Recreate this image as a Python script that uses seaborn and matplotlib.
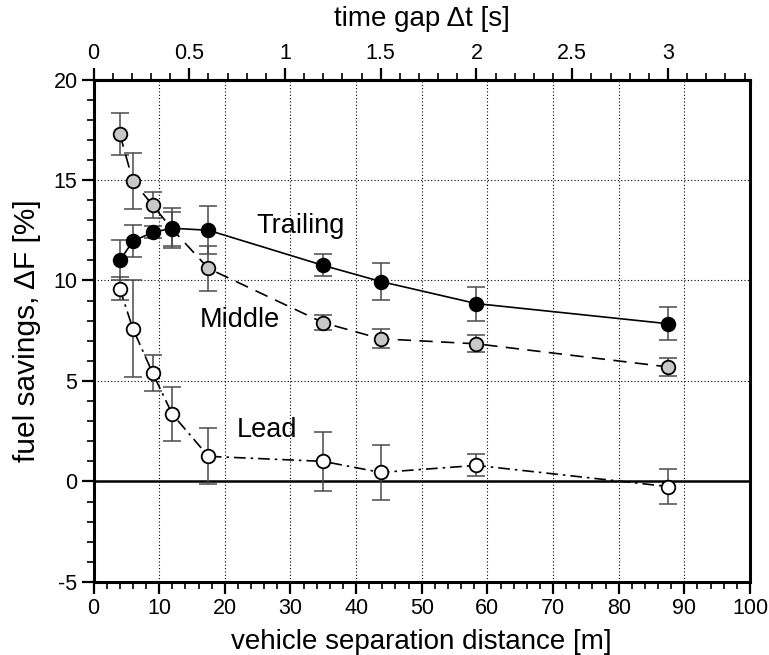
import matplotlib
matplotlib.use("Agg")
import matplotlib.pyplot as plt
import seaborn as sns
import numpy as np
import pandas as pd
from matplotlib.ticker import MultipleLocator

# ---- data ----
distance = [4, 6, 9, 12, 17.5, 35, 43.75, 58.33, 87.5]
trailing = [11.0, 11.95, 12.4, 12.6, 12.5, 10.75, 9.95, 8.85, 7.85]
trailing_err = [1.0, 0.8, 0.3, 1.0, 1.2, 0.55, 0.9, 0.85, 0.83]
middle = [17.3, 14.95, 13.75, 12.55, 10.6, 7.9, 7.1, 6.85, 5.7]
middle_err = [1.05, 1.4, 0.65, 0.85, 1.1, 0.37, 0.48, 0.42, 0.43]
lead = [9.6, 7.6, 5.4, 3.35, 1.25, 1.0, 0.45, 0.8, -0.25]
lead_err = [0.55, 2.4, 0.9, 1.35, 1.4, 1.45, 1.35, 0.55, 0.88]
series_names = ["Lead", "Middle", "Trailing"]
speed = 105 / 3.6  # m/s, converts distance to time gap
x_ticks = list(range(0, 101, 10))
y_ticks = list(range(-5, 21, 5))
t_ticks = [0, 0.5, 1, 1.5, 2, 2.5, 3]

sns.set_theme(style="white")
plt.rcParams['font.family'] = ['Liberation Sans', 'DejaVu Sans']
plt.rcParams['axes.unicode_minus'] = False
for k in ['text.color', 'axes.labelcolor', 'xtick.color', 'ytick.color']:
    plt.rcParams[k] = 'black'

tick_size = 15.5

fig = plt.figure(figsize=(7.69, 6.55), dpi=100)
ax = fig.add_axes([0.1216, 0.1115, 0.8537, 0.7671])

styles = {
    "Trailing": dict(ls="-", face="black", vals=trailing, err=trailing_err, z=3),
    "Middle": dict(ls=(0, (8, 5)), face="#c8c8c8", vals=middle, err=middle_err, z=2),
    "Lead": dict(ls=(0, (7, 3, 1.5, 3)), face="white", vals=lead, err=lead_err, z=1),
}

# grid
for gx in x_ticks[1:-1]:
    ax.axvline(gx, color="black", lw=0.8, ls=(0, (1, 2)), zorder=1)
for gy in [5, 10, 15]:
    ax.axhline(gy, color="black", lw=0.8, ls=(0, (1, 2)), zorder=1)
ax.axhline(0, color="black", lw=1.8, zorder=2)

for name in series_names:
    st = styles[name]
    z = 3 + st["z"] * 0.1
    df = pd.DataFrame({"d": distance, "v": st["vals"]})
    ax.errorbar(distance, st["vals"], yerr=st["err"], fmt="none",
                ecolor="#4a4a4a", elinewidth=1.1, capsize=6.8, capthick=1.1, zorder=z)
    sns.lineplot(data=df, x="d", y="v", ax=ax, color="black", lw=1.2,
                 linestyle=st["ls"], zorder=z + 1, legend=False)
    ax.plot(distance, st["vals"], ls="none", marker="o", ms=9.8,
            mfc=st["face"], mec="black", mew=1.3, zorder=z + 2)

ax.text(31.6, 12.71, "Trailing", fontsize=19.5, ha="center", va="center", zorder=8)
ax.text(22.3, 8.03, "Middle", fontsize=19.5, ha="center", va="center", zorder=8)
ax.text(26.4, 2.56, "Lead", fontsize=19.5, ha="center", va="center", zorder=8)

ax.set_xlim(0, 100)
ax.set_ylim(-5, 20)
ax.set_xticks(x_ticks)
ax.set_yticks(y_ticks)
ax.xaxis.set_minor_locator(MultipleLocator(2))
ax.yaxis.set_minor_locator(MultipleLocator(1))
ax.tick_params(which="major", direction="out", length=8.5, width=1.6, labelsize=tick_size,
               bottom=True, left=True, top=False, right=False, pad=3)
ax.tick_params(which="minor", direction="out", length=5, width=1.2,
               bottom=True, left=True, top=False, right=False)
for sp in ax.spines.values():
    sp.set_color("black")
    sp.set_linewidth(2.2)

ax.set_xlabel("vehicle separation distance [m]", fontsize=20, labelpad=7)
ax.set_ylabel("fuel savings, \u0394F [%]", fontsize=21.5, labelpad=9)

sec = ax.secondary_xaxis("top", functions=(lambda m: m / speed, lambda s: s * speed))
sec.set_xticks(t_ticks)
sec.set_xticklabels([f"{t:g}" for t in t_ticks])
sec.xaxis.set_minor_locator(MultipleLocator(0.1))
sec.tick_params(which="major", direction="out", length=8.5, width=1.6, labelsize=tick_size, pad=3)
sec.tick_params(which="minor", direction="out", length=5, width=1.2)
sec.spines["top"].set_linewidth(2.2)
sec.set_xlabel("time gap \u0394t [s]", fontsize=20, labelpad=12)

fig.savefig("out.png", dpi=100)
